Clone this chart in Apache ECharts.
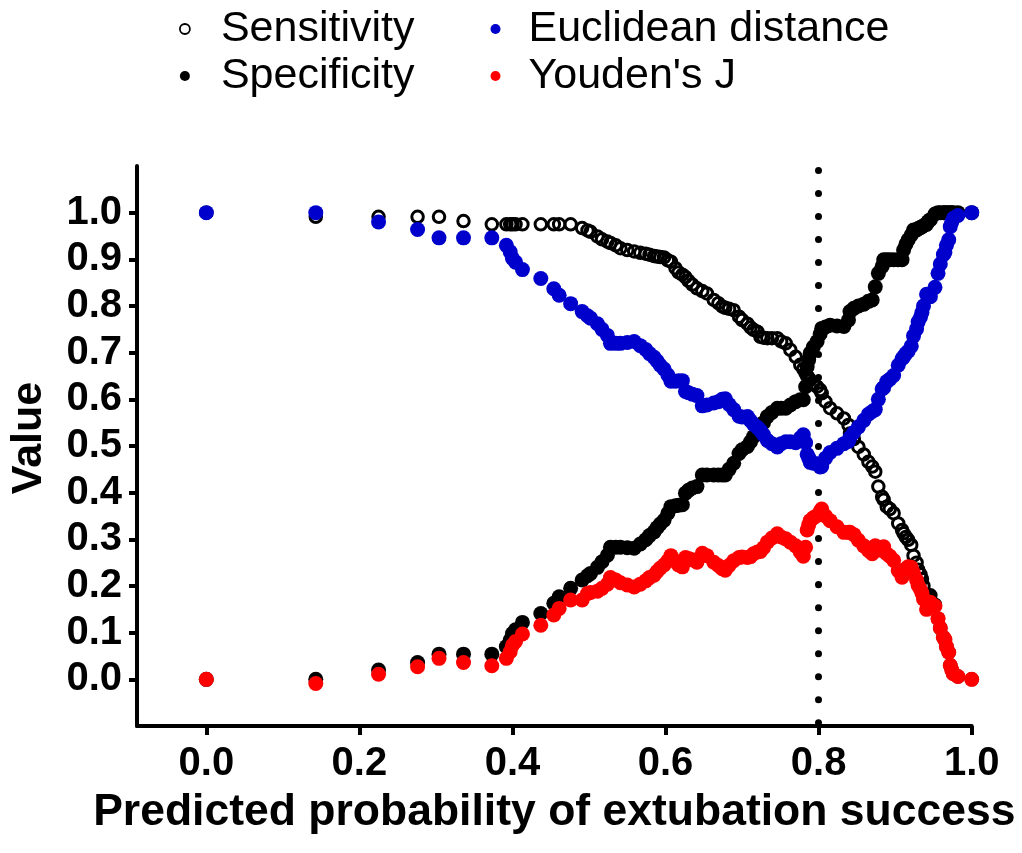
<!DOCTYPE html>
<html>
<head>
<meta charset="utf-8">
<script src="https://cdn.jsdelivr.net/npm/echarts@6/dist/echarts.min.js"></script>
<style>
html,body{margin:0;padding:0;background:#fff;}
#chart{width:1022px;height:853px;}
</style>
</head>
<body>
<div id="chart"></div>
<script>
// Thresholds (predicted probability of extubation success)
var thresholds = [0.000,0.143,0.225,0.276,0.304,0.336,0.373,0.392,0.397,0.400,
0.404,0.413,0.437,0.454,0.461,0.476,0.491,0.498,0.502,0.511,
0.517,0.524,0.528,0.535,0.541,0.550,0.559,0.567,0.574,0.579,
0.585,0.589,0.593,0.598,0.603,0.607,0.613,0.617,0.622,0.626,
0.630,0.635,0.641,0.648,0.654,0.663,0.669,0.674,0.678,0.683,
0.689,0.696,0.700,0.707,0.711,0.715,0.720,0.724,0.728,0.733,
0.739,0.746,0.751,0.757,0.763,0.770,0.776,0.780,0.783,0.785,
0.787,0.789,0.793,0.798,0.802,0.804,0.809,0.815,0.824,0.833,
0.839,0.841,0.846,0.852,0.859,0.865,0.870,0.874,0.878,0.883,
0.885,0.889,0.893,0.898,0.904,0.909,0.911,0.914,0.917,0.921,
0.924,0.928,0.930,0.933,0.935,0.937,0.941,0.943,0.946,0.952,
0.956,0.959,0.963,0.965,0.967,0.970,0.972,0.974,0.976,0.982,
1.000];

var sensitivity = [1.000,0.991,0.991,0.991,0.991,0.982,0.975,0.975,0.975,0.975,
0.975,0.975,0.975,0.975,0.975,0.975,0.967,0.962,0.959,0.949,
0.943,0.938,0.935,0.930,0.924,0.920,0.917,0.914,0.912,0.910,
0.907,0.906,0.905,0.904,0.898,0.895,0.881,0.872,0.867,0.862,
0.854,0.846,0.838,0.832,0.827,0.813,0.806,0.799,0.796,0.794,
0.791,0.777,0.770,0.762,0.754,0.749,0.745,0.734,0.732,0.731,
0.731,0.731,0.724,0.720,0.706,0.691,0.674,0.665,0.656,0.650,
0.646,0.641,0.634,0.627,0.620,0.613,0.595,0.581,0.570,0.559,
0.545,0.527,0.515,0.498,0.482,0.466,0.456,0.445,0.413,0.391,
0.385,0.370,0.365,0.356,0.334,0.320,0.313,0.305,0.299,0.288,
0.265,0.250,0.235,0.225,0.215,0.200,0.175,0.178,0.180,0.160,
0.130,0.110,0.090,0.085,0.070,0.058,0.030,0.020,0.012,0.006,
0.000];

var specificity = [0.000,0.000,0.020,0.036,0.054,0.054,0.054,0.070,0.084,0.098,
0.106,0.122,0.141,0.163,0.177,0.195,0.213,0.222,0.227,0.240,
0.252,0.266,0.283,0.283,0.283,0.282,0.281,0.290,0.299,0.308,
0.316,0.325,0.333,0.341,0.356,0.370,0.372,0.373,0.374,0.399,
0.405,0.410,0.413,0.438,0.438,0.438,0.438,0.438,0.438,0.450,
0.463,0.484,0.492,0.499,0.509,0.520,0.528,0.540,0.550,0.563,
0.572,0.581,0.581,0.581,0.588,0.595,0.599,0.599,0.627,0.670,
0.685,0.699,0.712,0.724,0.740,0.752,0.755,0.759,0.757,0.756,
0.770,0.788,0.795,0.800,0.804,0.810,0.813,0.841,0.870,0.885,
0.899,0.899,0.899,0.899,0.899,0.899,0.920,0.932,0.942,0.952,
0.963,0.963,0.966,0.968,0.970,0.972,0.975,0.981,0.985,0.997,
1.000,1.000,1.000,1.000,1.000,1.000,1.000,1.000,1.000,1.000,
1.000];

var euclidean = [1.000,1.000,0.980,0.964,0.946,0.946,0.946,0.930,0.916,0.902,
0.894,0.878,0.859,0.837,0.823,0.805,0.788,0.779,0.774,0.762,
0.750,0.737,0.720,0.720,0.720,0.722,0.724,0.715,0.707,0.698,
0.690,0.682,0.673,0.665,0.652,0.639,0.639,0.640,0.640,0.617,
0.614,0.611,0.608,0.586,0.588,0.592,0.595,0.600,0.601,0.589,
0.578,0.564,0.562,0.563,0.554,0.546,0.540,0.533,0.524,0.512,
0.505,0.498,0.505,0.509,0.509,0.507,0.517,0.524,0.507,0.482,
0.475,0.465,0.463,0.462,0.455,0.456,0.474,0.486,0.495,0.505,
0.510,0.518,0.529,0.541,0.555,0.568,0.574,0.578,0.600,0.622,
0.625,0.638,0.643,0.651,0.673,0.687,0.691,0.698,0.703,0.714,
0.736,0.751,0.766,0.776,0.786,0.800,0.825,0.822,0.820,0.840,
0.870,0.890,0.910,0.915,0.930,0.942,0.970,0.980,0.988,0.994,
1.000];

var youdenJ = [0.000,-0.009,0.011,0.027,0.045,0.036,0.029,0.045,0.059,0.073,
0.081,0.097,0.116,0.138,0.152,0.170,0.170,0.184,0.186,0.189,
0.195,0.204,0.218,0.213,0.207,0.202,0.198,0.204,0.211,0.218,
0.223,0.231,0.238,0.245,0.254,0.265,0.253,0.245,0.241,0.261,
0.259,0.256,0.251,0.270,0.265,0.251,0.244,0.237,0.234,0.244,
0.254,0.261,0.262,0.261,0.263,0.269,0.273,0.274,0.282,0.294,
0.303,0.312,0.305,0.301,0.294,0.286,0.273,0.264,0.283,0.320,
0.331,0.340,0.346,0.351,0.360,0.365,0.350,0.340,0.327,0.315,
0.315,0.315,0.310,0.298,0.286,0.276,0.269,0.286,0.283,0.276,
0.284,0.269,0.264,0.255,0.233,0.219,0.233,0.237,0.241,0.240,
0.228,0.213,0.201,0.193,0.185,0.172,0.150,0.159,0.165,0.157,
0.130,0.110,0.090,0.085,0.070,0.058,0.030,0.020,0.012,0.006,
0.000];

var xTickValues = [0.0,0.2,0.4,0.6,0.8,1.0];
var yTickValues = [0.0,0.1,0.2,0.3,0.4,0.5,0.6,0.7,0.8,0.9,1.0];
var cutoff = 0.8;

function pairs(vals){ return thresholds.map(function(t,i){ return [t, vals[i]]; }); }

var chart = echarts.init(document.getElementById('chart'), null, {renderer:'canvas'});
var FONT = '"Liberation Sans", Arial, Helvetica, sans-serif';
var legendText = {fontFamily: FONT, fontSize: 43, color: '#000', lineHeight: 46};

chart.setOption({
  animation: false,
  backgroundColor: '#fff',
  grid: {left: 135.5, right: 50.3, top: 166, bottom: 127, containLabel: false},
  legend: [
    {orient: 'vertical', left: 179, top: 6, padding: 0, itemGap: 1,
     itemWidth: 10, itemHeight: 10, icon: 'circle',
     textStyle: Object.assign({padding: [0,0,0,26]}, legendText),
     data: [{name: 'Sensitivity', itemStyle: {borderWidth: 1.8}}, {name: 'Specificity'}]},
    {orient: 'vertical', left: 490.5, top: 6, padding: 0, itemGap: 1,
     itemWidth: 10, itemHeight: 10, icon: 'circle',
     textStyle: Object.assign({padding: [0,0,0,23]}, legendText),
     data: ['Euclidean distance', "Youden's J"]}
  ],
  xAxis: {
    type: 'value', min: -0.0906, max: 1.0,
    name: 'Predicted probability of extubation success',
    nameLocation: 'middle', nameGap: 64,
    nameTextStyle: {fontFamily: FONT, fontSize: 44.5, fontWeight: 'bold', color: '#000'},
    axisLine: {show: true, onZero: false, lineStyle: {color: '#000', width: 4}},
    axisTick: {show: true, length: 9, lineStyle: {color: '#000', width: 4}, customValues: xTickValues},
    axisLabel: {show: true, margin: 18, fontFamily: FONT, fontSize: 40, fontWeight: 'bold', color: '#000',
      customValues: xTickValues, formatter: function(v){ return v.toFixed(1); }},
    splitLine: {show: false}
  },
  yAxis: {
    type: 'value', min: -0.1, max: 1.1,
    name: 'Value', nameLocation: 'middle', nameGap: 86,
    nameTextStyle: {fontFamily: FONT, fontSize: 43, fontWeight: 'bold', color: '#000', padding: [0,0,0,16]},
    axisLine: {show: true, onZero: false, lineStyle: {color: '#000', width: 4}},
    axisTick: {show: true, length: 8, lineStyle: {color: '#000', width: 4}, customValues: yTickValues},
    axisLabel: {show: true, margin: 15, fontFamily: FONT, fontSize: 40, fontWeight: 'bold', color: '#000',
      customValues: yTickValues, formatter: function(v){ return v.toFixed(1); }},
    splitLine: {show: false}
  },
  series: [
    {name: 'Sensitivity', type: 'scatter', data: pairs(sensitivity),
     symbol: 'circle', symbolSize: 11.5,
     itemStyle: {color: 'rgba(255,255,255,0)', borderColor: '#000', borderWidth: 3, opacity: 1},
     markLine: {silent: true, z: 1, symbol: ['none','none'], label: {show: false},
       lineStyle: {color: '#000', width: 7, type: [0.01, 23], cap: 'round', dashOffset: 19.7},
       emphasis: {disabled: true},
       data: [{xAxis: cutoff}]}},
    {name: 'Specificity', type: 'scatter', data: pairs(specificity),
     symbol: 'circle', symbolSize: 15, itemStyle: {color: '#000', opacity: 1}},
    {name: 'Euclidean distance', type: 'scatter', data: pairs(euclidean),
     symbol: 'circle', symbolSize: 15, itemStyle: {color: '#0000CC', opacity: 1}},
    {name: "Youden's J", type: 'scatter', data: pairs(youdenJ),
     symbol: 'circle', symbolSize: 15, itemStyle: {color: '#FF0000', opacity: 1}}
  ]
});
</script>
</body>
</html>
